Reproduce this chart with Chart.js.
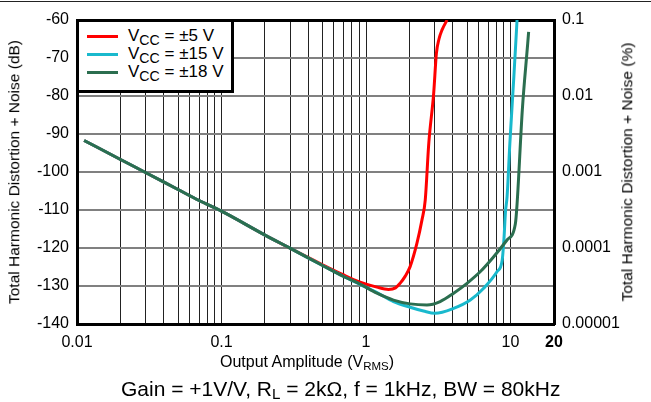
<!DOCTYPE html>
<html>
<head>
<meta charset="utf-8">
<script src="https://cdn.jsdelivr.net/npm/chart.js@4/dist/chart.umd.min.js"></script>
<style>
body { margin: 0; background: #fff; font-family: "Liberation Sans", Arial, sans-serif; }
#wrap { position: relative; width: 651px; height: 402px; overflow: hidden; }
#thd { position: absolute; left: 0; top: 0; }
.txt { position: absolute; white-space: nowrap; color: #000; line-height: 1; }
.txt sub { font-size: 0.72em; vertical-align: -0.22em; line-height: 0; }
.rot { transform: translate(-50%, -50%) rotate(-90deg); }
#legend { position: absolute; left: 76px; top: 19px; width: 158px; height: 74px; background: #fff; border: 3px solid #000; box-sizing: border-box; }
#legend .row { position: absolute; left: 8px; font-size: 17px; line-height: 18px; white-space: nowrap; }
#legend .swatch { display: inline-block; width: 31px; height: 3px; vertical-align: middle; margin-right: 10px; }
</style>
</head>
<body>
<div id="wrap">
  <canvas id="thd" width="651" height="402"></canvas>
  <div class="txt" style="left:0; top:1px; width:651px; border-top:1px solid #222"></div>
  <div id="legend"></div>
  <div class="txt rot" style="left:14px; top:172px; font-size:15.5px">Total Harmonic Distortion + Noise (dB)</div>
  <div class="txt rot" style="left:627px; top:172px; font-size:15.5px">Total Harmonic Distortion + Noise (%)</div>
  <div class="txt" style="left:220px; top:354px; font-size:16px">Output Amplitude (V<sub>RMS</sub>)</div>
  <div class="txt" style="left:121px; top:378px; font-size:21px">Gain = +1V/V, R<sub>L</sub> = 2kΩ, f = 1kHz, BW = 80kHz</div>
</div>
<script>
// supply voltages and colours of the three curves
var supplies = ['5', '15', '18'];
var colors = ['#ff0000', '#19b9cd', '#2b6e4f'];

// output amplitude (Vrms) and THD+N (dB)
var amp5 = [0.0112, 0.02, 0.03, 0.05, 0.07, 0.1, 0.2, 0.3, 0.5, 0.7, 0.9, 1.19, 1.43, 1.6, 1.72, 1.87, 2.02, 2.25, 2.44, 2.57, 2.72, 2.94, 3.07, 3.2, 3.36, 3.64];
var thd5 = [-91.7, -96.7, -100.2, -104.6, -107.5, -110.3, -116.6, -120.1, -124.4, -127.1, -128.9, -130.3, -130.9, -130.5, -129.3, -127.4, -124.9, -118.8, -112.6, -107.4, -92.4, -79.3, -68.8, -65.0, -62.6, -60];

var amp15 = [0.0112, 0.02, 0.03, 0.05, 0.07, 0.1, 0.2, 0.3, 0.5, 0.7, 0.9, 1.2, 1.55, 2.02, 2.5, 3.0, 4.04, 5.27, 6.52, 8.08, 8.76, 9.0, 9.23, 9.47, 9.9, 10.55, 11.1];
var thd15 = [-91.7, -96.7, -100.2, -104.6, -107.5, -110.3, -116.6, -120.1, -124.6, -127.5, -129.5, -131.8, -134.1, -135.6, -136.6, -137.2, -135.9, -133.7, -130.6, -126.2, -123.2, -117.9, -110.5, -106.5, -92.4, -74.9, -60];

var amp18 = [0.0112, 0.02, 0.03, 0.05, 0.07, 0.1, 0.2, 0.3, 0.5, 0.7, 0.9, 1.19, 1.55, 2.02, 2.64, 3.26, 4.04, 5.0, 6.19, 7.65, 9.46, 10.8, 11.1, 12.07, 13.16, 13.35];
var thd18 = [-91.7, -96.7, -100.2, -104.6, -107.5, -110.3, -116.6, -120.1, -124.6, -127.5, -129.4, -131.9, -133.7, -134.7, -135.0, -134.1, -131.9, -129.3, -126.2, -122.3, -117.9, -113.7, -108.5, -83.7, -66.1, -63.1];

// axis ticks
var xLabels = [0.01, 0.1, 1, 10, 20];
var yTicks = [-140, -130, -120, -110, -100, -90, -80, -70, -60];
var pctTicks = [0.00001, 0.0001, 0.001, 0.01, 0.1];

// gridlines at 1..9 of every decade, plus the 20 at the end
var xGrid = [];
[0.01, 0.1, 1].forEach(function (d) {
    for (var m = 1; m <= 9; m++) xGrid.push(Number((d * m).toPrecision(3)));
});
xGrid.push(10, 20);

const toPoints = (xs, ys) => xs.map((x, i) => ({ x: x, y: ys[i] }));

// legend built from the same names / colours
var legend = document.getElementById('legend');
supplies.forEach(function (s, i) {
    var row = document.createElement('div');
    row.className = 'row';
    row.style.top = (5 + i * 18) + 'px';
    row.innerHTML = '<span class="swatch" style="background:' + colors[i] + '"></span>V<sub>CC</sub> = \u00b1' + s + ' V';
    legend.appendChild(row);
});

Chart.defaults.font.family = '"Liberation Sans", Arial, sans-serif';
Chart.defaults.font.size = 16;
Chart.defaults.color = '#000';

var series = [toPoints(amp5, thd5), toPoints(amp15, thd15), toPoints(amp18, thd18)];

new Chart(document.getElementById('thd'), {
    type: 'line',
    data: {
        datasets: series.map(function (pts, i) {
            return {
                label: 'VCC = \u00b1' + supplies[i] + ' V',
                data: pts,
                borderColor: colors[i],
                borderWidth: 3,
                pointRadius: 0,
                cubicInterpolationMode: 'monotone',
                order: 3 - i,
                yAxisID: 'y'
            };
        })
    },
    options: {
        responsive: false,
        animation: false,
        layout: { padding: { top: 20, left: 0, right: 0, bottom: 0 } },
        plugins: { legend: { display: false }, tooltip: { enabled: false } },
        scales: {
            x: {
                type: 'logarithmic',
                min: 0.01,
                max: 20,
                afterBuildTicks: function (axis) { axis.ticks = xGrid.map(v => ({ value: v })); },
                afterFit: function (s) { s.height = 78; },
                ticks: {
                    autoSkip: false,
                    maxRotation: 0,
                    padding: 9,
                    callback: function (v) {
                        return xLabels.some(l => Math.abs(l - v) < 1e-9) ? String(v) : '';
                    },
                    font: function (ctx) {
                        return { size: 16, weight: ctx.tick && ctx.tick.value === 20 ? 'bold' : 'normal' };
                    }
                },
                grid: { color: '#222', lineWidth: 1, drawTicks: false },
                border: { display: true, color: '#000', width: 3 }
            },
            y: {
                type: 'linear',
                position: 'left',
                min: -140,
                max: -60,
                afterBuildTicks: function (axis) { axis.ticks = yTicks.map(v => ({ value: v })); },
                afterFit: function (s) { s.width = 77; },
                ticks: { padding: 8 },
                grid: {
                    color: function (ctx) { return ctx.tick && ctx.tick.value === -60 ? '#000' : '#808080'; },
                    lineWidth: function (ctx) { return ctx.tick && ctx.tick.value === -60 ? 3 : 2; },
                    drawTicks: false
                },
                border: { display: true, color: '#000', width: 3 }
            },
            y2: {
                type: 'logarithmic',
                position: 'right',
                min: 0.00001,
                max: 0.1,
                afterBuildTicks: function (axis) { axis.ticks = pctTicks.map(v => ({ value: v })); },
                afterFit: function (s) { s.width = 97; },
                ticks: { padding: 8, callback: function (v) { return String(v); } },
                grid: { display: false, drawTicks: false },
                border: { display: true, color: '#000', width: 3 }
            }
        }
    }
});
</script>
</body>
</html>
